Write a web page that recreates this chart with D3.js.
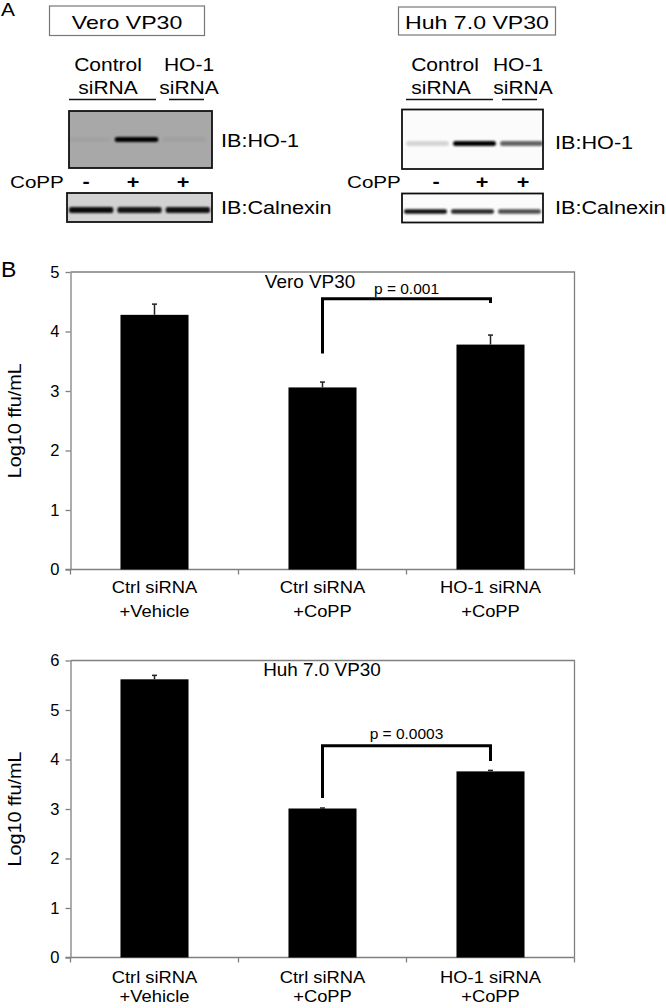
<!DOCTYPE html>
<html>
<head>
<meta charset="utf-8">
<script src="https://cdn.jsdelivr.net/npm/d3@7"></script>
<style>
  body { margin: 0; background: #fff; }
  svg { display: block; font-family: "Liberation Sans", Arial, sans-serif; }
  .axis path, .axis line { stroke: #808080; stroke-width: 1.3; }
  .axis text { font-size: 16.5px; fill: #000; font-family: "Liberation Sans", Arial, sans-serif; }
</style>
</head>
<body>
<script>
// bar chart data
const categories = [["Ctrl siRNA", "+Vehicle"], ["Ctrl siRNA", "+CoPP"], ["HO-1 siRNA", "+CoPP"]];
const veroMean = [4.28, 3.06, 3.78];
const veroErr = [0.18, 0.09, 0.16];
const huhMean = [5.62, 3.01, 3.76];
const huhErr = [0.08, 0.01, 0.02];
const veroTicks = [0, 1, 2, 3, 4, 5];
const huhTicks = [0, 1, 2, 3, 4, 5, 6];
// significance brackets (data units)
const veroBracket = { from: 1, to: 2, top: 4.55, leftEnd: 3.63, rightEnd: 4.48, label: "p = 0.001" };
const huhBracket = { from: 1, to: 2, top: 4.28, leftEnd: 3.22, rightEnd: 3.97, label: "p = 0.0003" };

// western blot lanes (band intensity 0..1)
const copp = ["-", "+", "+"];
const veroHO1 = [0.03, 1, 0.04];
const veroCalnexin = [0.95, 0.9, 0.92];
const huhHO1 = [0.15, 1, 0.6];
const huhCalnexin = [0.95, 0.85, 0.7];

const svg = d3.select('body').append('svg')
    .attr('width', 666)
    .attr('height', 1008);

const defs = svg.append('defs');
defs.append('filter').attr('id', 'blur')
    .attr('x', '-20%').attr('y', '-100%').attr('width', '140%').attr('height', '300%')
    .append('feGaussianBlur').attr('stdDeviation', 1.1);

function txt(g, x, y, s, size, anchor, sx) {
    return g.append('text')
        .attr('transform', `translate(${x},${y}) scale(${sx || 1},1)`)
        .attr('text-anchor', anchor || 'start')
        .style('font-size', size + 'px')
        .text(s);
}

// ---------- panel A ----------
const panelA = svg.append('g').attr('class', 'panelA');
txt(panelA, 1, 16, 'A', 19, 'start', 1.1);

function drawBlotPanel(opt) {
    const g = panelA.append('g');
    g.append('rect')
        .attr('x', opt.box[0]).attr('y', opt.box[1])
        .attr('width', opt.box[2] - opt.box[0]).attr('height', opt.box[3] - opt.box[1])
        .attr('fill', 'none').attr('stroke', '#777').attr('stroke-width', 1.2);
    txt(g, (opt.box[0] + opt.box[2]) / 2, opt.box[3] - 6.5, opt.title, 18.5, 'middle', 1.25);

    txt(g, opt.ctrlX, 71, 'Control', 17.5, 'middle', 1.2);
    txt(g, opt.ctrlX2, 94, 'siRNA', 17.5, 'middle', 1.2);
    txt(g, opt.hoX, 71, 'HO-1', 17.5, 'middle', 1.2);
    txt(g, opt.hoX2, 94, 'siRNA', 17.5, 'middle', 1.2);
    opt.underlines.forEach(u => {
        g.append('line').attr('x1', u[0]).attr('x2', u[1]).attr('y1', 99.5).attr('y2', 99.5)
            .attr('stroke', '#111').attr('stroke-width', 1.3);
    });

    // HO-1 blot
    const lane = d3.scaleBand().domain(d3.range(3)).range([opt.blot1[0], opt.blot1[1]]);
    const b1 = g.append('g');
    b1.append('rect')
        .attr('x', opt.blot1[0]).attr('y', opt.blot1[2])
        .attr('width', opt.blot1[1] - opt.blot1[0]).attr('height', opt.blot1[3] - opt.blot1[2])
        .attr('fill', opt.fill1);
    b1.append('line')
        .attr('x1', opt.blot1[0] + 4).attr('x2', opt.blot1[1] - 4)
        .attr('y1', opt.topLineY).attr('y2', opt.topLineY)
        .attr('stroke', '#333').attr('stroke-width', 1.2).attr('opacity', opt.topLineOp)
        .attr('filter', 'url(#blur)');
    b1.selectAll('.band').data(opt.ho1).join('rect')
        .attr('class', 'band')
        .attr('x', (d, i) => lane(i) + opt.bandShift + 2)
        .attr('width', lane.bandwidth() - 4)
        .attr('y', opt.bandY - 2.5)
        .attr('height', 5)
        .attr('rx', 2.5)
        .attr('fill', '#000')
        .attr('opacity', d => d)
        .attr('filter', 'url(#blur)');
    b1.append('rect')
        .attr('x', opt.blot1[0]).attr('y', opt.blot1[2])
        .attr('width', opt.blot1[1] - opt.blot1[0]).attr('height', opt.blot1[3] - opt.blot1[2])
        .attr('fill', 'none').attr('stroke', '#111').attr('stroke-width', 1.8);
    txt(g, opt.ibX, opt.ibY1, 'IB:HO-1', 18.5, 'start', 1.17);

    // CoPP row
    txt(g, opt.coppX, 188, 'CoPP', 16.5, 'start', 1.25);
    copp.forEach((s, i) => {
        txt(g, opt.signX[i], 188, s, 18, 'middle', 1.2).style('font-weight', 'bold');
    });

    // Calnexin blot
    const lane2 = d3.scaleBand().domain(d3.range(3)).range([opt.blot2[0], opt.blot2[1]]);
    const b2 = g.append('g');
    b2.append('rect')
        .attr('x', opt.blot2[0]).attr('y', opt.blot2[2])
        .attr('width', opt.blot2[1] - opt.blot2[0]).attr('height', opt.blot2[3] - opt.blot2[2])
        .attr('fill', opt.fill2);
    b2.selectAll('.band').data(opt.calnexin).join('rect')
        .attr('class', 'band')
        .attr('x', (d, i) => lane2(i) + 2)
        .attr('width', lane2.bandwidth() - 4)
        .attr('y', opt.calY - opt.calH / 2)
        .attr('height', opt.calH)
        .attr('rx', 2)
        .attr('fill', '#000')
        .attr('opacity', d => d)
        .attr('filter', 'url(#blur)');
    b2.append('rect')
        .attr('x', opt.blot2[0]).attr('y', opt.blot2[2])
        .attr('width', opt.blot2[1] - opt.blot2[0]).attr('height', opt.blot2[3] - opt.blot2[2])
        .attr('fill', 'none').attr('stroke', '#111').attr('stroke-width', 1.8);
    txt(g, opt.ibX, 214, 'IB:Calnexin', 18.5, 'start', 1.17);
}

drawBlotPanel({
    title: 'Vero VP30', box: [49.5, 6, 204.5, 35.5],
    ctrlX: 108, ctrlX2: 108, hoX: 189, hoX2: 189,
    underlines: [[69, 156], [169, 204]],
    blot1: [69, 212, 111, 168], fill1: '#a8a8a8', topLineY: 125, topLineOp: 0.35,
    ho1: veroHO1, bandY: 139.5, bandShift: -4,
    ibX: 221, ibY1: 147,
    coppX: 10, signX: [86, 133, 183],
    blot2: [67, 212, 193, 222], fill2: '#d2d2d2', calnexin: veroCalnexin, calY: 210, calH: 6
});

drawBlotPanel({
    title: 'Huh 7.0 VP30', box: [398.5, 7, 555.5, 35],
    ctrlX: 445, ctrlX2: 441, hoX: 518, hoX2: 523,
    underlines: [[406, 493], [502, 537]],
    blot1: [402, 543, 109.5, 169], fill1: '#fbfbfb', topLineY: 119, topLineOp: 0.45,
    ho1: huhHO1, bandY: 143.5, bandShift: 2,
    ibX: 555, ibY1: 148.5,
    coppX: 347, signX: [436, 482, 523],
    blot2: [402, 543, 193.5, 222.5], fill2: '#fbfbfb', calnexin: huhCalnexin, calY: 211.5, calH: 4.5
});

// ---------- panel B ----------
txt(svg, 1, 277, 'B', 22, 'start', 1.05);

function drawChart(opt) {
    const g = svg.append('g').attr('class', 'chart');
    const x = d3.scaleBand().domain(d3.range(categories.length)).range([70.5, 574.5]);
    const y = d3.scaleLinear().domain([0, d3.max(opt.ticks)]).range([opt.bottom, opt.top]);
    const barW = x.bandwidth() * 0.405;
    const cx = i => x(i) + x.bandwidth() / 2;

    // frame (top and right)
    g.append('path')
        .attr('d', `M${x.range()[0]},${y.range()[1]}H${x.range()[1]}V${y.range()[0]}`)
        .attr('fill', 'none').attr('stroke', '#808080').attr('stroke-width', 1.3);

    // y axis
    g.append('g')
        .attr('class', 'axis')
        .attr('transform', `translate(${x.range()[0]},0)`)
        .call(d3.axisLeft(y).tickValues(opt.ticks).tickFormat(d3.format('d'))
            .tickSize(5).tickPadding(6).tickSizeOuter(0));

    // x axis baseline with boundary ticks
    const xa = g.append('g').attr('class', 'axis');
    xa.append('line')
        .attr('x1', x.range()[0] - 5).attr('x2', x.range()[1])
        .attr('y1', opt.bottom).attr('y2', opt.bottom);
    xa.selectAll('.bt').data(d3.range(categories.length + 1)).join('line')
        .attr('class', 'bt')
        .attr('x1', d => x.range()[0] + d * x.step()).attr('x2', d => x.range()[0] + d * x.step())
        .attr('y1', opt.bottom).attr('y2', opt.bottom + 5);

    // category labels
    categories.forEach((c, i) => {
        txt(g, cx(i), opt.bottom + opt.lab1, c[0], 17, 'middle', 1.08);
        txt(g, cx(i), opt.bottom + opt.lab2, c[1], 17, 'middle', 1.08);
    });

    // bars
    g.selectAll('.bar').data(opt.mean).join('rect')
        .attr('class', 'bar')
        .attr('x', (d, i) => cx(i) - barW / 2)
        .attr('width', barW)
        .attr('y', d => y(d))
        .attr('height', d => y(0) - y(d))
        .attr('fill', '#000');

    // error bars (upper only)
    const eb = g.selectAll('.err').data(opt.mean).join('g').attr('class', 'err');
    eb.append('line')
        .attr('x1', (d, i) => cx(i)).attr('x2', (d, i) => cx(i))
        .attr('y1', d => y(d)).attr('y2', (d, i) => y(d + opt.err[i]))
        .attr('stroke', '#222').attr('stroke-width', 1.5);
    eb.append('line')
        .attr('x1', (d, i) => cx(i) - 2.5).attr('x2', (d, i) => cx(i) + 2.5)
        .attr('y1', (d, i) => y(d + opt.err[i])).attr('y2', (d, i) => y(d + opt.err[i]))
        .attr('stroke', '#222').attr('stroke-width', 1.5);

    // title
    txt(g, opt.titleX, opt.titleY, opt.title, 17.5, 'middle', 1.08);

    // significance bracket
    const br = opt.bracket;
    const x1 = cx(br.from), x2 = cx(br.to);
    g.append('path')
        .attr('d', `M${x1},${y(br.leftEnd)}V${y(br.top)}H${x2}V${y(br.rightEnd)}`)
        .attr('fill', 'none').attr('stroke', '#000').attr('stroke-width', 3);
    txt(g, (x1 + x2) / 2, y(br.top) - opt.pGap, br.label, 15.5, 'middle', 1.0);

    // y label
    g.append('text')
        .attr('transform', `translate(21,${(opt.top + opt.bottom) / 2}) rotate(-90) scale(1.1,1)`)
        .attr('text-anchor', 'middle')
        .style('font-size', '18px')
        .text('Log10 ffu/mL');
}

drawChart({
    mean: veroMean, err: veroErr, ticks: veroTicks, bracket: veroBracket,
    top: 272, bottom: 569.5, lab1: 23.5, lab2: 47.5,
    title: 'Vero VP30', titleX: 310, titleY: 287.5, pGap: 5
});

drawChart({
    mean: huhMean, err: huhErr, ticks: huhTicks, bracket: huhBracket,
    top: 660.5, bottom: 957.5, lab1: 25.5, lab2: 44.5,
    title: 'Huh 7.0 VP30', titleX: 322, titleY: 675.5, pGap: 7
});
</script>
</body>
</html>
